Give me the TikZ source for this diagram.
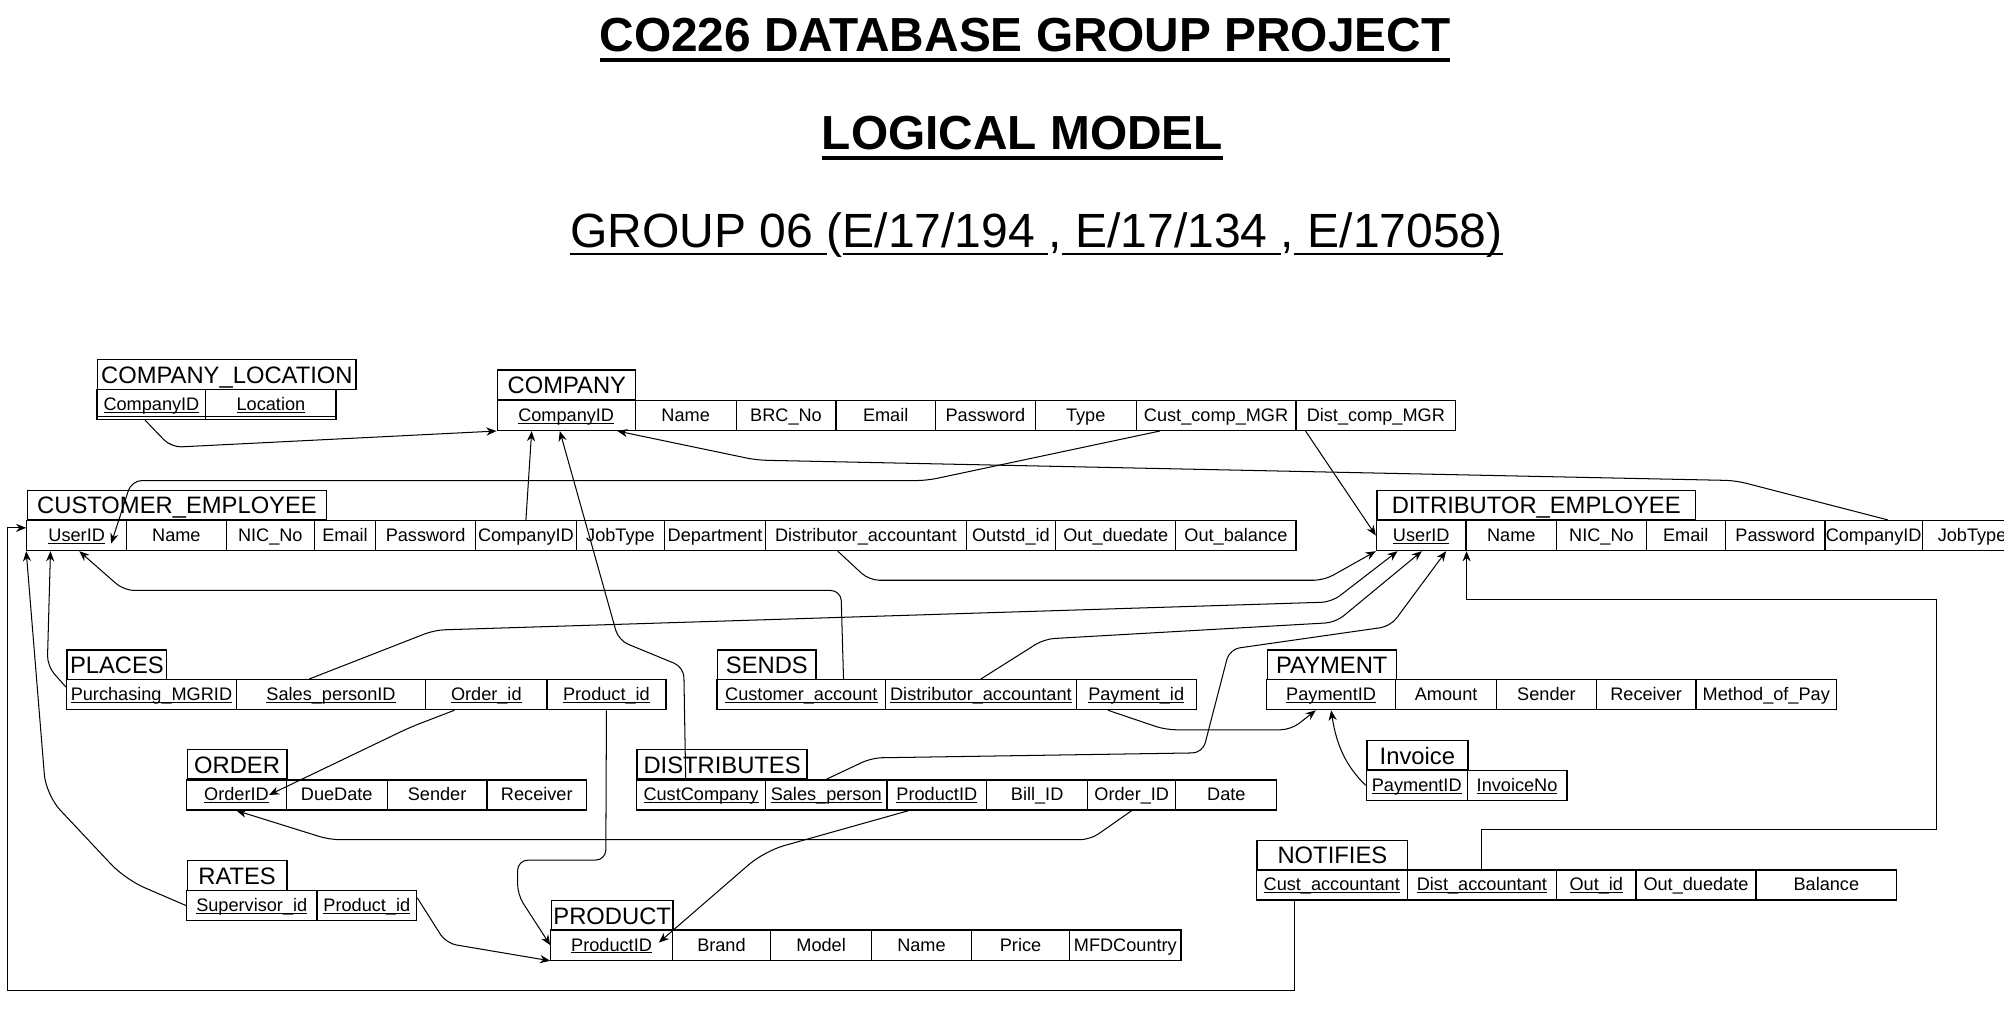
\documentclass[tikz,border=0pt]{standalone}
\usepackage{fontspec}
\setmainfont{Liberation Sans}
\usetikzlibrary{arrows.meta,calc}

% underline: gap below baseline, rule thickness, text
\newcommand\lineunder[3]{\setbox0\hbox{#3}\rlap{\vrule height -#1 depth \dimexpr#1+#2\relax width \wd0}\box0}
\newcommand\keyattr[1]{\lineunder{0.5pt}{0.4pt}{#1}}

\begin{document}
\begin{tikzpicture}[x=0.5pt,y=-0.5pt,
  cell/.style={draw,line width=0.5pt,inner sep=0pt,minimum height=11.75pt,
    text height=5.6pt,text depth=1pt,font=\fontsize{7.1}{8.5}\selectfont},
  tabhead/.style={draw,line width=0.5pt,inner sep=0pt,minimum height=11.5pt,
    text height=7pt,text depth=0pt,anchor=south west,font=\fontsize{9.3}{11}\selectfont},
  conn/.style={line width=0.4pt,rounded corners=4pt,-{Stealth[length=4pt,width=3.2pt]}}]
\fill[white] (0,0) rectangle (1568,810);
\useasboundingbox (0,0) rectangle (1568,810);

% title
\node[anchor=base,font=\fontsize{18.7}{22}\selectfont\bfseries] (t1) at (802,40)
  {\lineunder{2.6pt}{1.5pt}{CO226 DATABASE GROUP PROJECT}};
\node[anchor=base,font=\fontsize{18.7}{22}\selectfont\bfseries] (t2) at (800,117)
  {\lineunder{2.6pt}{1.5pt}{LOGICAL MODEL}};
\node[anchor=base,font=\fontsize{18.8}{22}\selectfont] (t3) at (811,194)
  {\lineunder{1.8pt}{0.8pt}{GROUP 06 }(\lineunder{1.8pt}{0.8pt}{E/17/194 },\lineunder{1.8pt}{0.8pt}{ E/17/134 },\lineunder{1.8pt}{0.8pt}{ E/17058)}};

% tables
\node[tabhead,minimum width=101pt] (cl) at (76,305) {COMPANY\_LOCATION};
\foreach \a/\b/\txt [count=\i] in {76/161/\keyattr{CompanyID},161/263/\keyattr{Location}}
  \node[cell,minimum width={(\b-\a)*0.5pt}] (cl\i) at ({(\a+\b)/2},316.5) {\txt};
\draw[line width=0.4pt] ($(cl1.south west)+(0,-3)$) -- ($(cl2.south east)+(0,-3)$);

\node[tabhead,minimum width=54pt] (co) at (389,313) {COMPANY};
\foreach \a/\b/\txt [count=\i] in {389/497/\keyattr{CompanyID},497/576/Name,576/654/BRC\_No,
    654/732/Email,732/810/Password,810/889/Type,889/1014/Cust\_comp\_MGR,1014/1139/Dist\_comp\_MGR}
  \node[cell,minimum width={(\b-\a)*0.5pt}] (co\i) at ({(\a+\b)/2},325) {\txt};

\node[tabhead,minimum width=117pt] (ce) at (21,407) {CUSTOMER\_EMPLOYEE};
\foreach \a/\b/\txt [count=\i] in {21/99/\keyattr{UserID},99/177/Name,177/246/NIC\_No,246/294/Email,
    294/372/Password,372/451/CompanyID,451/520/JobType,520/599/Department,
    599/756/Distributor\_accountant,756/826/Outstd\_id,826/920/Out\_duedate,920/1014/Out\_balance}
  \node[cell,minimum width={(\b-\a)*0.5pt}] (ce\i) at ({(\a+\b)/2},419) {\txt};

\node[tabhead,minimum width=124.5pt] (de) at (1077,407) {DITRIBUTOR\_EMPLOYEE};
\foreach \a/\b/\txt [count=\i] in {1077/1147/\keyattr{UserID},1147/1218/Name,1218/1288/NIC\_No,
    1288/1350/Email,1350/1428/Password,1428/1504/CompanyID,1504/1582/JobType}
  \node[cell,minimum width={(\b-\a)*0.5pt}] (de\i) at ({(\a+\b)/2},419) {\txt};

\node[tabhead,minimum width=39pt] (pl) at (52,532) {PLACES};
\foreach \a/\b/\txt [count=\i] in {52/185/\keyattr{Purchasing\_MGRID},185/333/\keyattr{Sales\_personID},
    333/428/\keyattr{Order\_id},428/521/\keyattr{Product\_id}}
  \node[cell,minimum width={(\b-\a)*0.5pt}] (pl\i) at ({(\a+\b)/2},543.5) {\txt};

\node[tabhead,minimum width=38.5pt] (se) at (561,532) {SENDS};
\foreach \a/\b/\txt [count=\i] in {561/693/\keyattr{Customer\_account},
    693/842/\keyattr{Distributor\_accountant},842/936/\keyattr{Payment\_id}}
  \node[cell,minimum width={(\b-\a)*0.5pt}] (se\i) at ({(\a+\b)/2},543.5) {\txt};

\node[tabhead,minimum width=50.5pt] (pa) at (991,532) {PAYMENT};
\foreach \a/\b/\txt [count=\i] in {991/1092/\keyattr{PaymentID},1092/1171/Amount,1171/1249/Sender,
    1249/1327/Receiver,1327/1437/Method\_of\_Pay}
  \node[cell,minimum width={(\b-\a)*0.5pt}] (pa\i) at ({(\a+\b)/2},543.5) {\txt};

\node[tabhead,minimum width=39.5pt] (in) at (1069,603) {Invoice};
\foreach \a/\b/\txt [count=\i] in {1069/1148/\keyattr{PaymentID},1148/1226/\keyattr{InvoiceNo}}
  \node[cell,minimum width={(\b-\a)*0.5pt}] (in\i) at ({(\a+\b)/2},614.5) {\txt};

\node[tabhead,minimum width=39pt] (or) at (146,610) {ORDER};
\foreach \a/\b/\txt [count=\i] in {146/224/\keyattr{OrderID},224/303/DueDate,303/381/Sender,381/459/Receiver}
  \node[cell,minimum width={(\b-\a)*0.5pt}] (or\i) at ({(\a+\b)/2},622) {\txt};

\node[tabhead,minimum width=66.5pt] (di) at (498,610) {DISTRIBUTES};
\foreach \a/\b/\txt [count=\i] in {498/599/\keyattr{CustCompany},599/694/\keyattr{Sales\_person},
    694/772/\keyattr{ProductID},772/851/Bill\_ID,851/920/Order\_ID,920/999/Date}
  \node[cell,minimum width={(\b-\a)*0.5pt}] (di\i) at ({(\a+\b)/2},622) {\txt};

\node[tabhead,minimum width=59pt] (no) at (983,681) {NOTIFIES};
\foreach \a/\b/\txt [count=\i] in {983/1101/\keyattr{Cust\_accountant},1101/1218/\keyattr{Dist\_accountant},
    1218/1280/\keyattr{Out\_id},1280/1374/Out\_duedate,1374/1484/Balance}
  \node[cell,minimum width={(\b-\a)*0.5pt}] (no\i) at ({(\a+\b)/2},692.5) {\txt};

\node[tabhead,minimum width=39pt] (ra) at (146,697) {RATES};
\foreach \a/\b/\txt [count=\i] in {146/248/\keyattr{Supervisor\_id},248/326/\keyattr{Product\_id}}
  \node[cell,minimum width={(\b-\a)*0.5pt}] (ra\i) at ({(\a+\b)/2},708.5) {\txt};

\node[tabhead,minimum width=47.5pt] (pr) at (431,728) {PRODUCT};
\foreach \a/\b/\txt [count=\i] in {431/526/\keyattr{ProductID},526/603/Brand,603/682/Model,
    682/760/Name,760/837/Price,837/924/MFDCountry}
  \node[cell,minimum width={(\b-\a)*0.5pt}] (pr\i) at ({(\a+\b)/2},739.5) {\txt};

% references into COMPANY
\draw[conn] ($(cl1.south)+(-5,0)$) -- (134,350) -- (co1.south west);
\draw[conn] (ce6.north) -- ($(co1.south)+(-27,0)$);
\draw[conn] ($(di1.north)+(-12,0)$) -- (535,522) -- (484,501) -- ($(co1.south)+(-5,0)$);
\draw[conn] ($(de6.north)+(11,0)$) -- (1358,376) -- (592,360) -- ($(co1.south)+(40,0)$);

% references into the employees
\draw[conn] ($(co7.south)+(-44,0)$) -- (725,376) -- (103,376) -- ($(ce1.south)+(27,-6)$);
\draw[conn] ($(co8.south west)+(8,0)$) -- (de1.west);
\draw[conn] ($(ce9.south)+(-22,0)$) -- (680,454) -- (1036,454) -- (de1.south west);
\draw[conn] ($(pl2.north)+(-17,0)$) -- (340,493) -- (1042,471) -- ($(de1.south west)+(17,0)$);
\draw[conn] (se2.north) -- (817,500) -- (1045,487) -- ($(de1.south west)+(36,0)$);
\draw[conn] (di2.north) -- (682,593) -- (941,589) -- (962,508) -- (1088,490) -- ($(de1.south west)+(55,0)$);
\draw[conn,rounded corners=0pt] (no2.north) -- ++(0,-31) -| (1515,469) -| (de1.south east);
\draw[conn] ($(se1.north)+(33,0)$) -- (658,462) -- (97,462) -- ($(ce1.south)+(2,0)$);
\draw[conn] ($(pl1.west)+(0,-6)$) -- (37,521) -- ($(ce1.south west)+(19,0)$);
\draw[conn,rounded corners=8pt] (ra1.west) -- (98,688) -- (36,622) -- (ce1.south west);
\draw[conn,rounded corners=0pt] ($(no1.south)+(-29,0)$) |- (6,775) |- ($(ce1.west)+(0,-6)$);

% orders, products, payments
\draw[conn] ($(pl3.south)+(-25,0)$) -- (321,569) -- ($(or1.east)+(-14,0)$);
\draw[conn] (di5.south) -- (853,657) -- (258,657) -- (or1.south);
\draw[conn] (pl4.south) -- (474,673) -- (405,673) -- (405,700) -- (pr1.west);
\draw[conn] ($(ra2.east)+(0,-6)$) -- (349,738) -- (pr1.south west);
\draw[conn,rounded corners=8pt] ($(di3.south)+(-22,0)$) -- (598,666) -- ($(pr1.east)+(-11,-2)$);
\draw[conn] ($(se3.south)+(-22,0)$) -- (912,571) -- (1010,571) -- ($(pa1.south)+(-12,0)$);
\draw[conn] (in1.west) .. controls (1054,600) and (1046,585) .. (pa1.south);
\end{tikzpicture}
\end{document}
